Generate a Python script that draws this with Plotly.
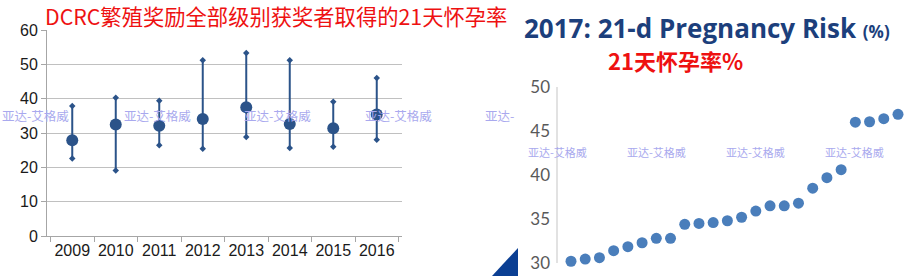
import plotly.graph_objects as go

W, H = 916, 278

# Left panel data
years = ["2009", "2010", "2011", "2012", "2013", "2014", "2015", "2016"]
mean_rate = [27.9, 32.5, 32.1, 34.1, 37.5, 32.6, 31.4, 35.4]
low_rate = [22.6, 19.1, 26.4, 25.4, 28.8, 25.6, 26.0, 28.0]
high_rate = [37.9, 40.3, 39.4, 51.2, 53.3, 51.2, 39.1, 46.0]

# Right panel data (sorted 21-d pregnancy risk, 2017)
herd_rank = list(range(1, 25))
preg_risk = [30.2, 30.45, 30.6, 31.4, 31.85, 32.3, 32.8, 32.8, 34.4, 34.5, 34.6, 34.8,
             35.2, 35.9, 36.5, 36.5, 36.8, 38.5, 39.7, 40.6, 46.0, 46.05, 46.4, 46.9]
right_ticks = [30, 35, 40, 45, 50]

def px(x):
    return x / W

def py(y):
    return (H - y) / H

dark = "#2b5389"
fig = go.Figure()

# error-bar lines
lx, ly = [], []
for yr, lo, hi in zip(years, low_rate, high_rate):
    lx += [yr, yr, None]
    ly += [lo, hi, None]
fig.add_trace(go.Scatter(x=lx, y=ly, mode="lines", line=dict(color=dark, width=2),
                         xaxis="x", yaxis="y", hoverinfo="skip", showlegend=False))
fig.add_trace(go.Scatter(x=years + years, y=low_rate + high_rate, mode="markers",
                         marker=dict(color=dark, size=5, symbol="diamond"),
                         xaxis="x", yaxis="y", showlegend=False))
fig.add_trace(go.Scatter(x=years, y=mean_rate, mode="markers",
                         marker=dict(color=dark, size=12),
                         xaxis="x", yaxis="y", showlegend=False))

# right scatter
fig.add_trace(go.Scatter(x=herd_rank, y=preg_risk, mode="markers",
                         marker=dict(color="#4a7ebb", size=11),
                         xaxis="x2", yaxis="y2", showlegend=False))

# right axis range computations
x1_px, x24_px = 571, 898
upx = (x24_px - x1_px) / 23
xr0 = 1 - (x1_px - 557) / upx
xr1 = 24 + (916 - x24_px) / upx
y30_px, y50_px = 263, 87
upy = (y30_px - y50_px) / 20
yr0 = 30 - (278 - y30_px) / upy
yr1 = 50 + (y50_px - 60) / upy

fig.update_layout(
    width=W, height=H, margin=dict(l=0, r=0, t=0, b=0, autoexpand=False),
    paper_bgcolor="white", plot_bgcolor="white",
    font=dict(family="Liberation Sans, Arial", color="#1a1a1a"),
    xaxis=dict(domain=[px(47), px(402)], type="category", categoryorder="array",
               categoryarray=years, tickson="boundaries", ticks="outside", ticklen=5,
               tickcolor="#a6a6a6", showgrid=False, showline=True, linecolor="#a6a6a6",
               tickangle=0, tickfont=dict(size=16, color="#1a1a1a"), anchor="y"),
    yaxis=dict(domain=[py(236), py(30)], range=[0, 60], tickvals=[0, 10, 20, 30, 40, 50, 60],
               ticks="outside", ticklen=5, tickcolor="#a6a6a6", showgrid=True,
               gridcolor="#c0c0c0", gridwidth=1, showline=True, linecolor="#a6a6a6",
               zeroline=False, tickfont=dict(size=16, color="#1a1a1a"), anchor="x"),
    xaxis2=dict(domain=[px(557), 1.0], range=[xr0, xr1], visible=False, anchor="y2"),
    yaxis2=dict(domain=[0, py(60)], range=[yr0, yr1], tickvals=right_ticks,
                showgrid=False, showline=False, zeroline=False, ticks="",
                tickfont=dict(size=17, color="#595959", family="Lato, Open Sans"),
                anchor="x2", ticklabelstandoff=6),
)

# right axis line
fig.add_shape(type="line", xref="paper", yref="y2", x0=px(557), x1=px(557), y0=30, y1=50,
              line=dict(color="#d9d9d9", width=1.5))

# logo triangle
fig.add_shape(type="path", xref="paper", yref="paper",
              path=f"M {px(492)} {py(276)} L {px(518)} {py(248)} L {px(518)} {py(276)} Z",
              fillcolor="#0b3f93", line=dict(width=0))

# titles
fig.add_annotation(text="DCRC繁殖奖励全部级别获奖者取得的21天怀孕率", xref="paper", yref="paper",
                   x=px(43), y=py(15), xanchor="left", yanchor="middle", showarrow=False,
                   font=dict(size=21.3, color="#ee1111", family="Noto Sans CJK SC"))
fig.add_annotation(text="<b>2017: 21-d Pregnancy Risk</b> <b><span style='font-size:17px'>(%)</span></b>",
                   xref="paper", yref="paper", x=px(522), y=py(28), xanchor="left",
                   yanchor="middle", showarrow=False,
                   font=dict(size=26, color="#1c3f7c", family="Open Sans"))
fig.add_annotation(text="<b>21天怀孕率%</b>", xref="paper", yref="paper",
                   x=px(606), y=py(60), xanchor="left", yanchor="middle", showarrow=False,
                   font=dict(size=22, color="#ee1111", family="Noto Sans CJK SC"))

# watermarks
wm_color = "#a9a9ee"
for xl in [0, 122, 242, 363]:
    fig.add_annotation(text="亚达-艾格威", xref="paper", yref="paper", x=px(xl), y=py(115),
                       xanchor="left", yanchor="middle", showarrow=False,
                       font=dict(size=12.5, color=wm_color, family="Noto Sans CJK SC"))
fig.add_annotation(text="亚达-", xref="paper", yref="paper", x=px(483), y=py(115),
                   xanchor="left", yanchor="middle", showarrow=False,
                   font=dict(size=12.5, color=wm_color, family="Noto Sans CJK SC"))
for xl in [526, 625, 724, 823]:
    fig.add_annotation(text="亚达-艾格威", xref="paper", yref="paper", x=px(xl), y=py(152),
                       xanchor="left", yanchor="middle", showarrow=False,
                       font=dict(size=11, color=wm_color, family="Noto Sans CJK SC"))

fig.write_html("out.html")
